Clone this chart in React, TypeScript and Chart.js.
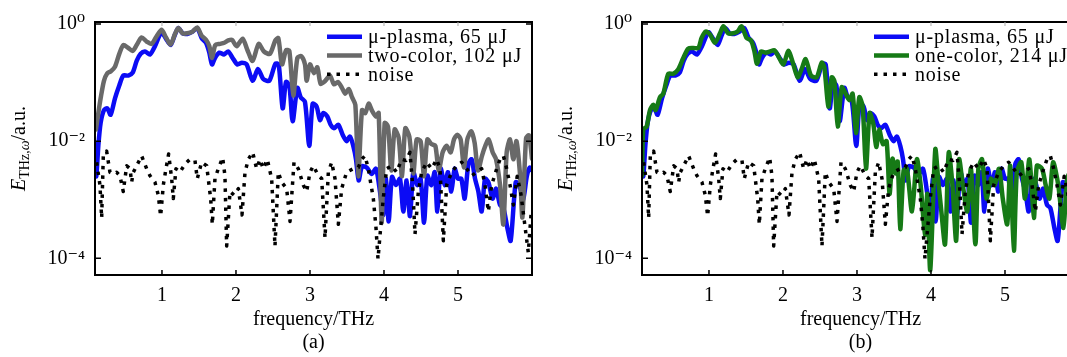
import React, { useEffect, useRef } from 'react';
import { Chart, registerables } from 'chart.js';

Chart.register(...registerables);

const FONT = "'Liberation Serif', 'DejaVu Serif', 'Times New Roman', serif";

// ---- axes ----
const xMin = 0.095;
const xMax = 6.0;
const xTickValues = [1, 2, 3, 4, 5];
const yMin = 5.2e-5;
const yMax = 1.08;
const yTickValues = [1e-4, 1e-2, 1];
const yTickLabels = ['10\u207B\u2074', '10\u207B\u00B2', '10\u2070'];
const xTitle = 'frequency/THz';

// ---- series (frequency in THz, amplitude given as log10) ----
const muPlasmaFreq = [0.1, 0.112, 0.14, 0.171, 0.216, 0.261, 0.306, 0.365, 0.423, 0.477, 0.545, 0.604, 0.658, 0.712, 0.77, 0.838, 0.905, 0.964, 0.995, 1.054, 1.117, 1.176, 1.221, 1.279, 1.342, 1.414, 1.477, 1.536, 1.595, 1.64, 1.676, 1.716, 1.775, 1.838, 1.896, 1.955, 2.018, 2.081, 2.144, 2.225, 2.297, 2.369, 2.45, 2.532, 2.577, 2.631, 2.676, 2.721, 2.766, 2.829, 2.874, 2.932, 2.99, 3.036, 3.09, 3.135, 3.18, 3.234, 3.279, 3.324, 3.383, 3.441, 3.495, 3.54, 3.585, 3.622, 3.658, 3.703, 3.766, 3.833, 3.892, 3.946, 3.99, 4.027, 4.063, 4.108, 4.162, 4.216, 4.261, 4.306, 4.351, 4.396, 4.45, 4.495, 4.541, 4.586, 4.64, 4.685, 4.721, 4.766, 4.82, 4.865, 4.91, 4.955, 5.0, 5.045, 5.09, 5.14, 5.185, 5.23, 5.275, 5.32, 5.365, 5.41, 5.468, 5.514, 5.568, 5.613, 5.667, 5.712, 5.78, 5.83, 5.88, 5.93, 5.97, 6.0];
const muPlasmaLog = [-2.05, -2.6, -2.08, -1.69, -1.47, -1.44, -1.55, -1.27, -1.05, -0.88, -0.88, -0.83, -0.63, -0.51, -0.47, -0.52, -0.38, -0.2, -0.14, -0.25, -0.36, -0.18, -0.07, -0.16, -0.17, -0.13, -0.07, -0.24, -0.32, -0.49, -0.69, -0.58, -0.49, -0.52, -0.47, -0.58, -0.69, -0.66, -0.69, -0.97, -0.77, -0.94, -0.97, -0.68, -0.69, -1.44, -0.99, -1.05, -1.66, -1.09, -1.25, -1.33, -2.08, -1.36, -1.41, -1.64, -1.52, -1.58, -1.72, -1.78, -1.72, -1.89, -2.0, -1.92, -2.08, -2.31, -2.67, -2.43, -2.45, -2.56, -2.47, -2.86, -3.26, -2.64, -3.37, -2.61, -2.75, -2.64, -3.2, -2.67, -3.28, -2.53, -2.75, -2.64, -3.39, -2.59, -2.75, -2.53, -3.2, -2.47, -2.75, -2.53, -2.86, -2.47, -2.64, -2.64, -2.98, -2.39, -2.31, -2.64, -2.86, -3.2, -2.64, -2.7, -2.98, -2.81, -3.09, -3.14, -3.48, -3.7, -2.7, -2.75, -3.0, -2.6, -2.45, -2.5];

const twoColorFreq = [0.108, 0.14, 0.171, 0.216, 0.261, 0.306, 0.365, 0.423, 0.477, 0.545, 0.604, 0.658, 0.725, 0.793, 0.86, 0.928, 0.995, 1.054, 1.117, 1.176, 1.221, 1.279, 1.342, 1.414, 1.477, 1.536, 1.595, 1.64, 1.676, 1.72, 1.784, 1.842, 1.896, 1.946, 2.009, 2.09, 2.153, 2.225, 2.306, 2.378, 2.459, 2.532, 2.572, 2.622, 2.676, 2.721, 2.775, 2.829, 2.883, 2.932, 2.955, 3.0, 3.054, 3.099, 3.144, 3.207, 3.27, 3.324, 3.378, 3.432, 3.477, 3.523, 3.568, 3.613, 3.653, 3.703, 3.748, 3.793, 3.838, 3.892, 3.928, 3.968, 4.009, 4.054, 4.099, 4.144, 4.198, 4.243, 4.288, 4.342, 4.396, 4.441, 4.495, 4.541, 4.586, 4.64, 4.694, 4.739, 4.793, 4.847, 4.901, 4.946, 4.991, 5.036, 5.081, 5.126, 5.18, 5.225, 5.27, 5.324, 5.369, 5.414, 5.468, 5.514, 5.568, 5.613, 5.658, 5.703, 5.748, 5.79, 5.84, 5.87, 5.92, 5.96, 6.0];
const twoColorLog = [-1.8, -1.52, -1.27, -0.97, -0.84, -0.81, -0.73, -0.51, -0.36, -0.41, -0.46, -0.36, -0.23, -0.3, -0.34, -0.21, -0.1, -0.23, -0.35, -0.17, -0.07, -0.16, -0.16, -0.13, -0.06, -0.2, -0.27, -0.38, -0.58, -0.36, -0.34, -0.32, -0.28, -0.27, -0.38, -0.25, -0.44, -0.63, -0.34, -0.47, -0.51, -0.28, -0.24, -0.69, -0.45, -0.46, -1.22, -0.58, -0.55, -0.69, -0.97, -0.69, -0.84, -0.74, -1.02, -0.97, -0.88, -1.03, -0.99, -1.09, -1.19, -1.11, -1.25, -1.38, -2.6, -1.47, -1.52, -1.36, -1.48, -1.58, -1.52, -3.39, -1.69, -1.75, -2.5, -1.8, -1.94, -2.6, -1.78, -1.92, -2.55, -1.97, -2.0, -2.6, -1.97, -2.05, -2.08, -2.5, -2.19, -2.08, -2.19, -1.97, -1.89, -1.97, -2.45, -1.97, -1.83, -2.03, -2.5, -2.25, -2.08, -1.97, -2.19, -2.31, -2.75, -3.42, -2.19, -1.97, -2.31, -2.0, -2.6, -3.3, -1.95, -1.9, -2.3];

const oneColorFreq = [0.095, 0.113, 0.158, 0.203, 0.248, 0.279, 0.338, 0.383, 0.45, 0.518, 0.586, 0.653, 0.72, 0.788, 0.856, 0.9, 0.955, 1.014, 1.081, 1.149, 1.194, 1.261, 1.329, 1.387, 1.441, 1.509, 1.568, 1.613, 1.649, 1.703, 1.766, 1.824, 1.883, 1.937, 2.005, 2.072, 2.126, 2.198, 2.252, 2.306, 2.378, 2.455, 2.523, 2.559, 2.613, 2.658, 2.694, 2.74, 2.793, 2.847, 2.896, 2.941, 2.986, 3.031, 3.076, 3.122, 3.17, 3.22, 3.26, 3.3, 3.35, 3.4, 3.44, 3.48, 3.52, 3.55, 3.585, 3.63, 3.675, 3.743, 3.81, 3.86, 3.92, 3.95, 3.99, 4.058, 4.1, 4.14, 4.19, 4.24, 4.29, 4.34, 4.38, 4.43, 4.49, 4.54, 4.6, 4.64, 4.69, 4.75, 4.81, 4.86, 4.92, 4.97, 5.03, 5.07, 5.12, 5.16, 5.22, 5.27, 5.33, 5.39, 5.43, 5.5, 5.55, 5.6, 5.65, 5.72, 5.79, 5.84, 5.9, 5.95, 6.0];
const oneColorLog = [-2.59, -1.8, -1.75, -1.47, -1.38, -1.47, -1.25, -1.19, -0.85, -0.85, -0.77, -0.58, -0.42, -0.41, -0.41, -0.24, -0.13, -0.18, -0.32, -0.16, -0.04, -0.16, -0.16, -0.13, -0.04, -0.24, -0.28, -0.46, -0.68, -0.47, -0.49, -0.47, -0.45, -0.55, -0.69, -0.46, -0.63, -0.91, -0.77, -0.6, -0.88, -0.91, -0.66, -0.74, -1.41, -0.91, -0.97, -1.75, -1.08, -1.19, -1.3, -1.19, -1.86, -1.25, -1.4, -2.47, -1.52, -1.7, -2.1, -1.8, -2.05, -2.0, -2.9, -2.3, -2.55, -2.35, -3.5, -2.5, -2.47, -3.2, -2.31, -2.75, -3.6, -2.9, -4.2, -2.14, -2.7, -3.2, -3.76, -2.19, -2.75, -3.7, -2.31, -2.75, -3.2, -2.47, -3.76, -2.47, -2.31, -2.98, -2.64, -2.75, -2.47, -2.98, -3.42, -2.42, -3.87, -2.53, -2.36, -2.98, -2.31, -3.31, -2.42, -2.47, -2.75, -2.98, -2.36, -2.75, -3.48, -2.64, -2.5, -2.8, -2.6];

const noiseFreq = [0.117, 0.162, 0.185, 0.207, 0.252, 0.297, 0.342, 0.387, 0.432, 0.477, 0.523, 0.568, 0.59, 0.613, 0.658, 0.725, 0.793, 0.838, 0.905, 0.95, 0.982, 1.018, 1.054, 1.09, 1.131, 1.153, 1.189, 1.243, 1.311, 1.378, 1.446, 1.477, 1.536, 1.604, 1.658, 1.68, 1.716, 1.761, 1.82, 1.851, 1.874, 1.919, 1.973, 2.032, 2.081, 2.122, 2.167, 2.225, 2.279, 2.324, 2.369, 2.423, 2.482, 2.527, 2.572, 2.617, 2.685, 2.73, 2.784, 2.842, 2.91, 2.955, 3.0, 3.045, 3.113, 3.158, 3.203, 3.248, 3.293, 3.338, 3.383, 3.428, 3.495, 3.585, 3.653, 3.698, 3.743, 3.788, 3.856, 3.892, 3.919, 3.955, 3.99, 4.036, 4.104, 4.171, 4.239, 4.297, 4.351, 4.387, 4.419, 4.464, 4.509, 4.577, 4.644, 4.712, 4.757, 4.802, 4.847, 4.914, 4.982, 5.05, 5.117, 5.185, 5.252, 5.32, 5.365, 5.41, 5.455, 5.523, 5.568, 5.613, 5.658, 5.703, 5.748, 5.8, 5.85, 5.9, 5.95, 5.99];
const noiseLog = [-2.36, -2.75, -3.31, -2.25, -2.17, -2.53, -2.56, -2.53, -2.59, -2.86, -2.42, -2.47, -2.7, -2.53, -2.42, -2.25, -2.47, -2.59, -2.7, -2.92, -3.28, -2.75, -2.47, -2.22, -2.64, -2.98, -2.47, -2.53, -2.39, -2.31, -2.33, -2.64, -2.36, -2.42, -2.98, -3.42, -2.64, -2.47, -2.28, -2.59, -3.79, -2.86, -2.92, -2.81, -3.26, -2.53, -2.31, -2.19, -2.47, -2.31, -2.47, -2.31, -2.64, -3.79, -2.53, -2.7, -2.81, -3.37, -2.36, -2.47, -2.75, -2.86, -2.53, -2.42, -2.59, -2.64, -3.65, -2.53, -2.36, -2.64, -3.42, -2.81, -2.53, -2.47, -2.45, -2.31, -2.25, -2.47, -2.98, -3.48, -4.01, -3.48, -2.98, -2.47, -2.42, -2.53, -2.31, -2.33, -2.19, -2.75, -3.59, -2.86, -2.53, -2.36, -2.47, -2.31, -2.47, -3.7, -2.75, -2.53, -2.42, -2.36, -2.47, -2.59, -2.53, -2.47, -2.75, -3.2, -2.75, -2.47, -2.31, -2.25, -2.47, -2.75, -3.09, -2.6, -2.9, -3.4, -3.9, -3.2];

const muPlasmaLabel = '\u03BC-plasma, 65 \u03BCJ';
const twoColorLabel = 'two-color, 102 \u03BCJ';
const oneColorLabel = 'one-color, 214 \u03BCJ';
const noiseLabel = 'noise';

const BLUE = '#0b0bf5';
const GRAY = '#696969';
const GREEN = '#167a16';
const BLACK = '#000000';

function toPoints(freq: number[], logs: number[]) {
  return freq.map((x, i) => ({ x, y: Math.pow(10, logs[i]) }));
}

function series(label: string, freq: number[], logs: number[], color: string, dashed: boolean, order: number) {
  return {
    label,
    data: toPoints(freq, logs),
    borderColor: color,
    backgroundColor: color,
    borderWidth: dashed ? 3.5 : 4.5,
    borderDash: dashed ? [3.5, 6] : [],
    borderCapStyle: dashed ? 'butt' : 'round',
    borderJoinStyle: 'round',
    pointRadius: 0,
    tension: dashed ? 0 : 0.25,
    fill: false,
    order,
  };
}

const framePlugin = {
  id: 'frameTicksLegend',
  afterDatasetsDraw(chart: any) {
    const { ctx, chartArea } = chart;
    const xs = chart.scales.x;
    const ys = chart.scales.y;
    ctx.save();
    ctx.strokeStyle = '#000';
    ctx.lineWidth = 2;
    ctx.strokeRect(chartArea.left, chartArea.top, chartArea.right - chartArea.left, chartArea.bottom - chartArea.top);
    ctx.lineWidth = 1.5;
    ctx.beginPath();
    for (const v of xTickValues) {
      const px = xs.getPixelForValue(v);
      ctx.moveTo(px, chartArea.bottom);
      ctx.lineTo(px, chartArea.bottom - 5);
    }
    for (const v of yTickValues) {
      const py = ys.getPixelForValue(v);
      ctx.moveTo(chartArea.left, py);
      ctx.lineTo(chartArea.left + 6, py);
      ctx.moveTo(chartArea.right, py);
      ctx.lineTo(chartArea.right - 6, py);
    }
    ctx.stroke();
    ctx.strokeStyle = '#aaaaaa';
    ctx.lineWidth = 1;
    ctx.beginPath();
    for (const v of xTickValues) {
      const px = xs.getPixelForValue(v);
      ctx.moveTo(px, chartArea.top);
      ctx.lineTo(px, chartArea.top + 4);
    }
    ctx.stroke();
    ctx.restore();
  },
  afterDraw(chart: any) {
    const { ctx, chartArea } = chart;
    ctx.save();
    // legend
    const datasets = chart.data.datasets;
    const rowY = [14.7, 33.5, 52.3];
    const x0 = chartArea.left + 232;
    const x1 = chartArea.left + 267;
    datasets.forEach((ds: any, i: number) => {
      const y = chartArea.top + rowY[i];
      ctx.beginPath();
      ctx.strokeStyle = ds.borderColor;
      ctx.lineWidth = ds.borderWidth;
      ctx.setLineDash(ds.borderDash || []);
      ctx.lineCap = 'butt';
      ctx.moveTo(x0, y);
      ctx.lineTo(x1, y);
      ctx.stroke();
      ctx.setLineDash([]);
      ctx.fillStyle = '#000';
      ctx.font = `20px ${FONT}`;
      (ctx as any).letterSpacing = '0.8px';
      ctx.textAlign = 'left';
      ctx.textBaseline = 'middle';
      ctx.fillText(ds.label, x1 + 6, y + 1);
      (ctx as any).letterSpacing = '0px';
    });
    // y-axis title: E_{THz,ω}/a.u.
    const parts = [
      { t: 'E', f: `italic 20px ${FONT}`, dy: 0 },
      { t: 'THz,', f: `14px ${FONT}`, dy: 4 },
      { t: '\u03C9', f: `italic 14px ${FONT}`, dy: 4 },
      { t: '/a.u.', f: `20px ${FONT}`, dy: 0 },
    ];
    let total = 0;
    for (const p of parts) {
      ctx.font = p.f;
      total += ctx.measureText(p.t).width;
    }
    ctx.translate(25, (chartArea.top + chartArea.bottom) / 2);
    ctx.rotate(-Math.PI / 2);
    ctx.textAlign = 'left';
    ctx.textBaseline = 'alphabetic';
    ctx.fillStyle = '#000';
    let x = -total / 2;
    for (const p of parts) {
      ctx.font = p.f;
      ctx.fillText(p.t, x, p.dy);
      x += ctx.measureText(p.t).width;
    }
    ctx.restore();
  },
};

function makeConfig(datasets: any[], caption: string): any {
  return {
    type: 'line',
    data: { datasets },
    options: {
      responsive: false,
      animation: false,
      events: [],
      layout: { padding: { left: 0, right: 28, top: 17, bottom: 0 } },
      plugins: { legend: { display: false }, tooltip: { enabled: false } },
      scales: {
        x: {
          type: 'linear',
          min: xMin,
          max: xMax,
          grid: { display: false, drawTicks: false },
          border: { display: false },
          afterBuildTicks: (s: any) => {
            s.ticks = xTickValues.map((v) => ({ value: v }));
          },
          afterFit: (s: any) => {
            s.height = 82;
          },
          ticks: {
            color: '#000',
            padding: 9,
            maxRotation: 0,
            font: { family: FONT, size: 20 },
            callback: (v: any) => String(v),
          },
          title: {
            display: true,
            text: [xTitle, caption],
            color: '#000',
            font: { family: FONT, size: 20, lineHeight: 1.15 },
            padding: { top: 0, bottom: 2.5 },
          },
        },
        y: {
          type: 'logarithmic',
          min: yMin,
          max: yMax,
          grid: { display: false, drawTicks: false },
          border: { display: false },
          afterBuildTicks: (s: any) => {
            s.ticks = yTickValues.map((v) => ({ value: v }));
          },
          afterFit: (s: any) => {
            s.width = 95;
          },
          ticks: {
            color: '#000',
            padding: 10,
            font: { family: FONT, size: 20 },
            callback: (_v: any, i: number) => yTickLabels[i],
          },
        },
      },
    },
    plugins: [framePlugin],
  };
}

export default function App() {
  const refA = useRef<HTMLCanvasElement>(null);
  const refB = useRef<HTMLCanvasElement>(null);

  useEffect(() => {
    const a = new Chart(
      refA.current as HTMLCanvasElement,
      makeConfig(
        [
          series(muPlasmaLabel, muPlasmaFreq, muPlasmaLog, BLUE, false, 2),
          series(twoColorLabel, twoColorFreq, twoColorLog, GRAY, false, 1),
          series(noiseLabel, noiseFreq, noiseLog, BLACK, true, 0),
        ],
        '(a)'
      )
    );
    const b = new Chart(
      refB.current as HTMLCanvasElement,
      makeConfig(
        [
          series(muPlasmaLabel, muPlasmaFreq, muPlasmaLog, BLUE, false, 2),
          series(oneColorLabel, oneColorFreq, oneColorLog, GREEN, false, 1),
          series(noiseLabel, noiseFreq, noiseLog, BLACK, true, 0),
        ],
        '(b)'
      )
    );
    return () => {
      a.destroy();
      b.destroy();
    };
  }, []);

  return (
    <div
      style={{
        position: 'fixed',
        left: 0,
        top: 0,
        width: 1067,
        height: 357,
        overflow: 'hidden',
        background: '#ffffff',
      }}
    >
      <canvas ref={refA} width={560} height={357} style={{ position: 'absolute', left: 0, top: 0 }} />
      <canvas ref={refB} width={560} height={357} style={{ position: 'absolute', left: 547, top: 0 }} />
    </div>
  );
}
